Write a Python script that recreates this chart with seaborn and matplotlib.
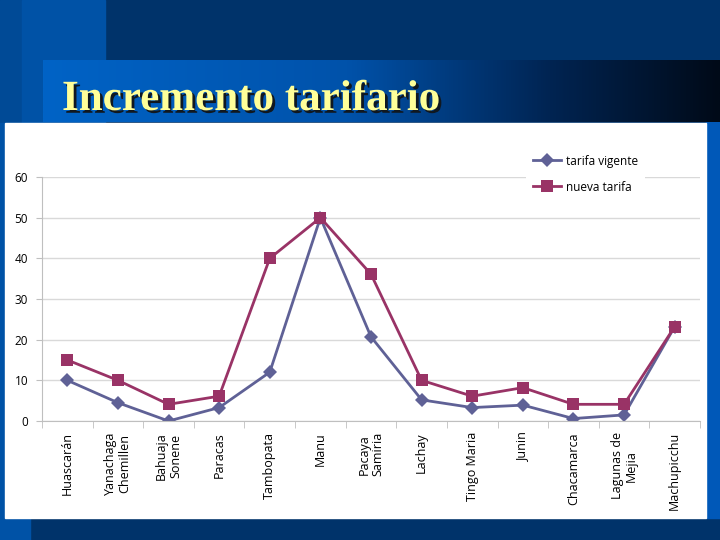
import numpy as np
import pandas as pd
import matplotlib
matplotlib.use('Agg')
import matplotlib.pyplot as plt
import matplotlib.patheffects as pe
import seaborn as sns
from matplotlib.patches import Rectangle
from matplotlib.colors import LinearSegmentedColormap
from matplotlib.ticker import MultipleLocator

areas = ['Huascarán', 'Yanachaga\nChemillen', 'Bahuaja\nSonene', 'Paracas', 'Tambopata',
         'Manu', 'Pacaya\nSamiria', 'Lachay', 'Tingo Maria', 'Junin', 'Chacamarca',
         'Lagunas de\nMejia', 'Machupicchu']
tarifa_vigente = [10.0, 4.5, 0.0, 3.3, 12.0, 50.0, 20.7, 5.2, 3.3, 3.9, 0.6, 1.5, 23.2]
nueva_tarifa = [15.0, 10.0, 4.1, 6.1, 40.0, 50.0, 36.1, 10.0, 6.1, 8.2, 4.1, 4.1, 23.2]

df = pd.DataFrame({'pos': range(len(areas)), 'vigente': tarifa_vigente, 'nueva': nueva_tarifa})

plt.rcParams['font.family'] = ['Open Sans', 'DejaVu Sans']

fig = plt.figure(figsize=(7.2, 5.4), dpi=100)

# fondo de la diapositiva
bg = fig.add_axes([0, 0, 1, 1])
bg.set_xlim(0, 720)
bg.set_ylim(540, 0)
bg.axis('off')
bg.add_patch(Rectangle((0, 0), 720, 540, color='#00336a'))
bg.add_patch(Rectangle((0, 0), 22, 540, color='#004a96'))
bg.add_patch(Rectangle((22, 0), 83, 123, color='#0052a6'))
bg.add_patch(Rectangle((0, 123), 30, 417, color='#0052a6'))
bg.add_patch(Rectangle((706, 122), 14, 396, color='#0058b8'))
cmap = LinearSegmentedColormap.from_list('banda', [(0, '#0063c6'), (0.45, '#0052aa'),
                                                   (0.75, '#002452'), (1, '#000a18')])
bg.imshow(np.linspace(0, 1, 256).reshape(1, -1), cmap=cmap, aspect='auto',
          extent=(43, 720, 122, 60), zorder=2)
bg.add_patch(Rectangle((5, 123), 701, 395, color='white', zorder=3))
bg.set_xlim(0, 720)
bg.set_ylim(540, 0)

# titulo con sombra
bg.text(62, 110, 'Incremento tarifario', family='Liberation Serif', weight='bold',
        fontsize=31, color='#ffff99', zorder=5,
        path_effects=[pe.withSimplePatchShadow(offset=(2, -2), shadow_rgbFace='#101820', alpha=1)])

# grafico
ax = fig.add_axes([42 / 720, 119 / 540, 658 / 720, 244 / 540])
ax.set_facecolor('none')
sns.lineplot(data=df, x='pos', y='vigente', ax=ax, color='#5f6196', marker='D',
             markersize=7, markeredgewidth=0, linewidth=2, label='tarifa vigente')
sns.lineplot(data=df, x='pos', y='nueva', ax=ax, color='#993366', marker='s',
             markersize=8, markeredgewidth=0, linewidth=2, label='nueva tarifa')

ax.set_xlim(-0.5, len(areas) - 0.5)
ax.set_ylim(0, 60)
ax.yaxis.set_major_locator(MultipleLocator(10))
ax.grid(axis='y', color='#d9d9d9', linewidth=1)
ax.set_axisbelow(True)
ax.set_xticks(df['pos'])
ax.set_xticklabels(areas, rotation=90, fontsize=9, va='top', ha='center', linespacing=1.1)
ax.set_xticks(np.arange(-0.5, len(areas)), minor=True)
ax.tick_params(axis='x', which='major', length=0, pad=8)
ax.tick_params(axis='x', which='minor', length=5, color='#bfbfbf')
ax.tick_params(axis='y', length=4, color='#bfbfbf', labelsize=8.5, pad=6)
ax.set_xlabel('')
ax.set_ylabel('')
for s in ['top', 'right']:
    ax.spines[s].set_visible(False)
for s in ['left', 'bottom']:
    ax.spines[s].set_color('#bfbfbf')

leg = ax.legend(loc='upper left', bbox_to_anchor=(478 / 658, 1.145), fontsize=8.5,
                frameon=True, facecolor='white', edgecolor='none', framealpha=1,
                handlelength=2.4, labelspacing=1.1, borderpad=0.6, handletextpad=0.4)

fig.savefig('out.png', dpi=100)
